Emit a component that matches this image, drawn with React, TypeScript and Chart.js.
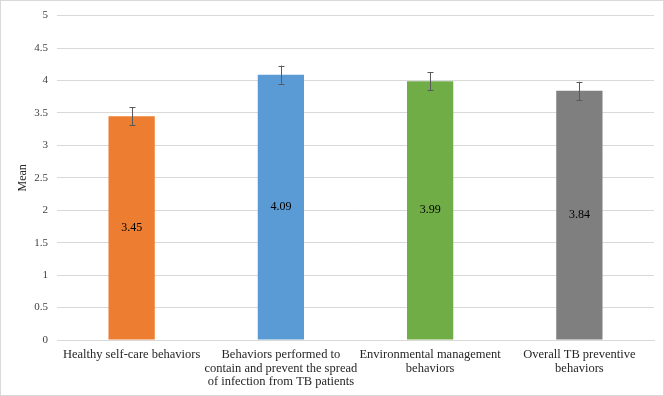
import React, { useEffect, useRef } from "react";
import { Chart, registerables } from "chart.js";

Chart.register(...registerables);

const categories: string[][] = [
  ["Healthy self-care behaviors"],
  ["Behaviors performed to", "contain and prevent the spread", "of infection from TB patients"],
  ["Environmental management", "behaviors"],
  ["Overall TB preventive", "behaviors"],
];
const means: number[] = [3.45, 4.09, 3.99, 3.84];
const errors: number[] = [0.14, 0.14, 0.14, 0.14];
const barColors: string[] = ["#ED7D31", "#5B9BD5", "#70AD47", "#7F7F7F"];
const yTicks: number[] = [0, 0.5, 1, 1.5, 2, 2.5, 3, 3.5, 4, 4.5, 5];

const FONT = "'Liberation Serif', 'Times New Roman', serif";

const extrasPlugin = {
  id: "extras",
  afterDatasetsDraw(chart: any) {
    const ctx = chart.ctx;
    const meta = chart.getDatasetMeta(0);
    const y = chart.scales.y;
    ctx.save();
    meta.data.forEach((bar: any, i: number) => {
      const v = means[i];
      const e = errors[i];
      const x = Math.round(bar.x) + 0.5;
      const top = y.getPixelForValue(v + e);
      const bot = y.getPixelForValue(v - e);
      ctx.strokeStyle = "#595959";
      ctx.lineWidth = 1;
      ctx.beginPath();
      ctx.moveTo(x, top);
      ctx.lineTo(x, bot);
      ctx.moveTo(x - 3, Math.round(top) + 0.5);
      ctx.lineTo(x + 3, Math.round(top) + 0.5);
      ctx.moveTo(x - 3, Math.round(bot) + 0.5);
      ctx.lineTo(x + 3, Math.round(bot) + 0.5);
      ctx.stroke();
      ctx.fillStyle = "#000000";
      ctx.font = `12px ${FONT}`;
      ctx.textAlign = "center";
      ctx.textBaseline = "middle";
      ctx.fillText(v.toFixed(2), bar.x, (bar.y + bar.base) / 2);
    });
    ctx.strokeStyle = "#d9d9d9";
    ctx.lineWidth = 1;
    ctx.strokeRect(0.5, 0.5, chart.width - 1, chart.height - 1);
    ctx.restore();
  },
};

export default function App() {
  const ref = useRef<HTMLCanvasElement | null>(null);
  useEffect(() => {
    if (!ref.current) return;
    const chart = new Chart(ref.current, {
      type: "bar",
      data: {
        labels: categories,
        datasets: [
          {
            data: means,
            backgroundColor: barColors,
            barPercentage: 0.31,
            categoryPercentage: 1,
          },
        ],
      },
      options: {
        animation: false,
        responsive: false,
        maintainAspectRatio: false,
        layout: { padding: { top: 13, right: 10, left: 0, bottom: 0 } },
        plugins: { legend: { display: false }, tooltip: { enabled: false } },
        scales: {
          x: {
            grid: { display: false },
            border: { display: true, color: "#d9d9d9" },
            ticks: {
              color: "#262626",
              font: { family: FONT, size: 12.5, lineHeight: 1.08 },
              padding: 0,
              maxRotation: 0,
              autoSkip: false,
            },
            afterFit(scale: any) {
              scale.height = 56;
            },
          },
          y: {
            min: 0,
            max: 5,
            afterBuildTicks(scale: any) {
              scale.ticks = yTicks.map((v) => ({ value: v }));
            },
            grid: { color: "#d9d9d9", drawTicks: false },
            border: { display: false },
            ticks: {
              color: "#404040",
              font: { family: FONT, size: 11 },
              padding: 9,
              callback: (v: any) => String(v),
            },
            title: {
              display: true,
              text: "Mean",
              color: "#262626",
              font: { family: FONT, size: 12 },
              padding: { top: 16, bottom: 0 },
            },
            afterFit(scale: any) {
              scale.width = 57;
            },
          },
        },
      },
      plugins: [extrasPlugin],
    });
    return () => chart.destroy();
  }, []);
  return (
    <div style={{ position: "fixed", left: 0, top: 0, width: 664, height: 396, background: "#fff" }}>
      <canvas ref={ref} width={664} height={396} style={{ width: 664, height: 396 }} />
    </div>
  );
}
